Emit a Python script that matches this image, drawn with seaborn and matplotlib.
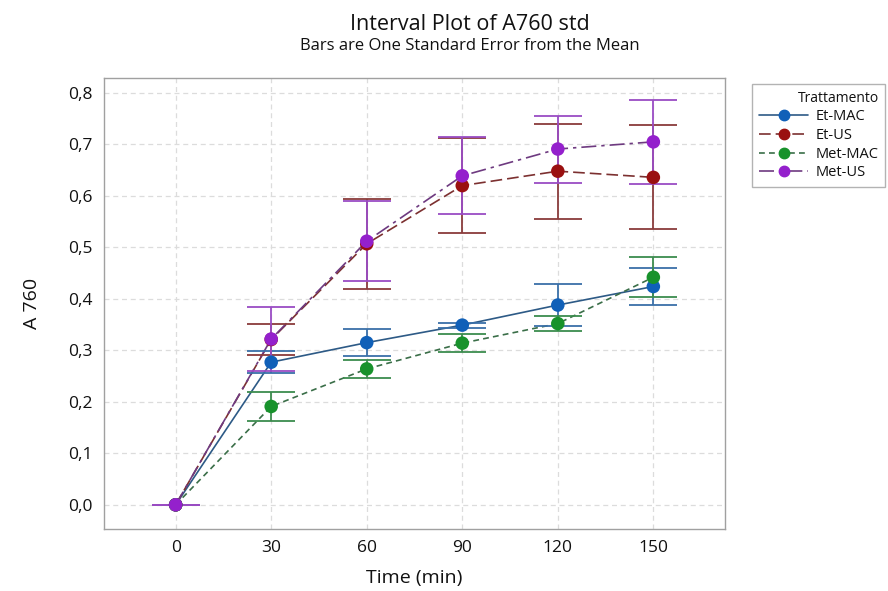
import pandas as pd
import matplotlib
matplotlib.use('Agg')
import matplotlib.pyplot as plt
import seaborn as sns
from matplotlib.lines import Line2D

# Dati
tempi = [0, 30, 60, 90, 120, 150]
trattamenti = ['Et-MAC', 'Et-US', 'Met-MAC', 'Met-US']

et_mac = [0, 0.277, 0.315, 0.349, 0.388, 0.424]
et_mac_se = [0, 0.021, 0.026, 0.005, 0.041, 0.036]
et_us = [0, 0.321, 0.507, 0.620, 0.648, 0.636]
et_us_se = [0, 0.031, 0.087, 0.092, 0.092, 0.101]
met_mac = [0, 0.191, 0.264, 0.314, 0.352, 0.442]
met_mac_se = [0, 0.028, 0.018, 0.018, 0.015, 0.039]
met_us = [0, 0.322, 0.512, 0.639, 0.691, 0.705]
met_us_se = [0, 0.062, 0.078, 0.075, 0.065, 0.081]

y_ticks = [0.0, 0.1, 0.2, 0.3, 0.4, 0.5, 0.6, 0.7, 0.8]
y_labels = ['0,0', '0,1', '0,2', '0,3', '0,4', '0,5', '0,6', '0,7', '0,8']

medie = {'Et-MAC': et_mac, 'Et-US': et_us, 'Met-MAC': met_mac, 'Met-US': met_us}
errori = {'Et-MAC': et_mac_se, 'Et-US': et_us_se, 'Met-MAC': met_mac_se, 'Met-US': met_us_se}

rows = []
for t in trattamenti:
    for x, m, s in zip(tempi, medie[t], errori[t]):
        rows.append({'Tempo': x, 'A760': m, 'SE': s, 'Trattamento': t})
data = pd.DataFrame(rows)

# Stile
col_linea = {'Et-MAC': '#2d5a86', 'Et-US': '#7c3030', 'Met-MAC': '#3a6e48', 'Met-US': '#6e3a80'}
col_barre = {'Et-MAC': '#3a70a8', 'Et-US': '#8a3c3c', 'Met-MAC': '#3c8c4e', 'Met-US': '#9a4cc4'}
col_punti = {'Et-MAC': '#1060b8', 'Et-US': '#9a1010', 'Met-MAC': '#18922c', 'Met-US': '#9420cc'}
tratteggi = {'Et-MAC': '', 'Et-US': (7, 3), 'Met-MAC': (3.5, 2.5), 'Met-US': (9, 3, 2, 3)}

sns.set_style('white')
plt.rcParams['font.family'] = ['Open Sans', 'DejaVu Sans']
plt.rcParams['text.color'] = '#111111'
plt.rcParams['axes.labelcolor'] = '#111111'
plt.rcParams['xtick.color'] = '#111111'
plt.rcParams['ytick.color'] = '#111111'

fig = plt.figure(figsize=(8.88, 5.91), dpi=100)
ax = fig.add_axes([104 / 888, 1 - 529 / 591, (725 - 104) / 888, (529 - 78) / 591])

ax.set_xlim(-22.5, 172.5)
ax.set_ylim(-0.047, 0.829)

for v in tempi:
    ax.axvline(v, color='#dcdcdc', lw=0.9, ls=(0, (4, 3)), zorder=0)
for v in y_ticks:
    ax.axhline(v, color='#dcdcdc', lw=0.9, ls=(0, (4, 3)), zorder=0)

sns.lineplot(data=data, x='Tempo', y='A760', hue='Trattamento', style='Trattamento',
             palette=col_linea, dashes=tratteggi, lw=1.2, legend=False, ax=ax,
             errorbar=None, zorder=2)

for t in trattamenti:
    d = data[data['Trattamento'] == t]
    ax.errorbar(d['Tempo'], d['A760'], yerr=d['SE'], fmt='none', ecolor=col_barre[t],
                elinewidth=1.3, capsize=17, capthick=1.3, zorder=3)

sns.scatterplot(data=data, x='Tempo', y='A760', hue='Trattamento', palette=col_punti,
                s=95, edgecolor='none', legend=False, ax=ax, zorder=4)

ax.set_xticks(tempi)
ax.set_xticklabels([str(t) for t in tempi], fontsize=12.5)
ax.set_yticks(y_ticks)
ax.set_yticklabels(y_labels, fontsize=12.5)
ax.tick_params(axis='both', direction='out', length=4, color='#a0a0a0', pad=4)
for sp in ax.spines.values():
    sp.set_color('#a0a0a0')
    sp.set_linewidth(1.0)

ax.set_xlabel('Time (min)', fontsize=14, labelpad=9)
ax.set_ylabel('A 760', fontsize=14, labelpad=20)

fig.text(470 / 888, 1 - 24 / 591, 'Interval Plot of A760 std', ha='center', va='center',
         fontsize=15.5, fontweight='medium')
fig.text(470 / 888, 1 - 46 / 591, 'Bars are One Standard Error from the Mean', ha='center',
         va='center', fontsize=12)

# Legenda
handles = [Line2D([0], [0], color=col_linea[t], lw=1.2,
                  dashes=tratteggi[t] if tratteggi[t] else (None, None),
                  marker='o', markersize=7.5, markerfacecolor=col_punti[t],
                  markeredgecolor=col_punti[t]) for t in trattamenti]
leg = ax.legend(handles, trattamenti, title='Trattamento', loc='upper left',
                bbox_to_anchor=(745 / 888, 1 - 77 / 591), bbox_transform=fig.transFigure,
                fontsize=10.5, title_fontsize=10, frameon=True, fancybox=False,
                handlelength=3.4, borderpad=0.45, labelspacing=0.25, handletextpad=0.5)
leg.get_frame().set_edgecolor('#a0a0a0')
leg.get_frame().set_linewidth(1.0)
leg._legend_box.align = 'right'

fig.savefig('out.png', dpi=100)
